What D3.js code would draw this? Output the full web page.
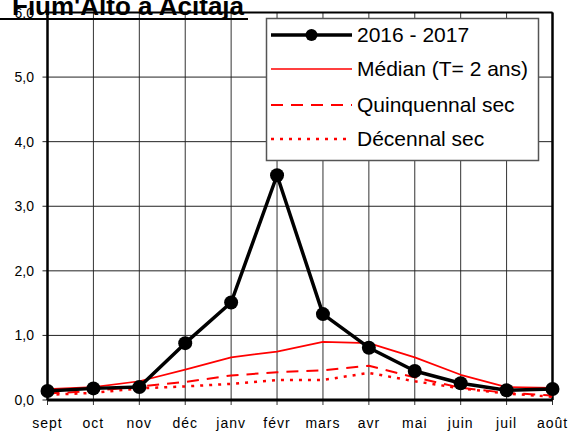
<!DOCTYPE html>
<html>
<head>
  <meta charset="utf-8">
  <script src="https://d3js.org/d3.v7.min.js"></script>
  <style>
    body { margin: 0; background: #fff; font-family: "Liberation Sans", Arial, sans-serif; }
    svg { display: block; }
  </style>
</head>
<body>
  <div id="chart"></div>
  <script>
    var months = ["sept", "oct", "nov", "déc", "janv", "févr", "mars", "avr", "mai", "juin", "juil", "août"];
    var yTicks = [0, 1, 2, 3, 4, 5, 6];

    var year = [0.14, 0.18, 0.20, 0.88, 1.51, 3.48, 1.33, 0.81, 0.45, 0.26, 0.15, 0.17];
    var median = [0.17, 0.20, 0.29, 0.47, 0.66, 0.75, 0.90, 0.88, 0.66, 0.39, 0.20, 0.19];
    var quinq = [0.10, 0.14, 0.21, 0.28, 0.38, 0.43, 0.46, 0.53, 0.35, 0.19, 0.11, 0.07];
    var decen = [0.08, 0.11, 0.18, 0.21, 0.25, 0.31, 0.31, 0.42, 0.29, 0.18, 0.10, 0.05];

    var series = [
      { name: "2016 - 2017", values: year, color: "#000", width: 3.5, dash: null, marker: true },
      { name: "Médian (T= 2 ans)", values: median, color: "#ff0000", width: 1.7, dash: null },
      { name: "Quinquennal sec", values: quinq, color: "#ff0000", width: 2, dash: "12,8" },
      { name: "Décennal sec", values: decen, color: "#ff0000", width: 2.5, dash: "3,6" }
    ];

    var W = 571, H = 432;
    var plotL = 47.5, plotR = 552.5, plotT = 12.5, plotB = 400;

    var svg = d3.select("#chart").append("svg")
      .attr("width", W)
      .attr("height", H);

    var x = d3.scalePoint().domain(months).range([plotL, plotR]);
    var y = d3.scaleLinear().domain([0, 6]).range([plotB, plotT]);

    var fmt = function (d) { return d3.format(".1f")(d).replace(".", ","); };

    // grid
    svg.append("g").selectAll("line").data(months).join("line")
      .attr("x1", d => x(d)).attr("x2", d => x(d))
      .attr("y1", plotT).attr("y2", plotB + 5)
      .attr("stroke", "#333").attr("stroke-width", 1);
    svg.append("g").selectAll("line").data(yTicks).join("line")
      .attr("x1", plotL - 5).attr("x2", plotR)
      .attr("y1", d => y(d)).attr("y2", d => y(d))
      .attr("stroke", "#222").attr("stroke-width", 1);

    // frame
    svg.append("line").attr("x1", plotL).attr("x2", plotL).attr("y1", plotT).attr("y2", plotB)
      .attr("stroke", "#000").attr("stroke-width", 2.5);
    svg.append("line").attr("x1", plotR).attr("x2", plotR).attr("y1", plotT).attr("y2", plotB)
      .attr("stroke", "#000").attr("stroke-width", 2.5);
    svg.append("line").attr("x1", plotL).attr("x2", plotR).attr("y1", plotT).attr("y2", plotT)
      .attr("stroke", "#000").attr("stroke-width", 2);
    svg.append("line").attr("x1", plotL).attr("x2", plotR).attr("y1", plotB).attr("y2", plotB)
      .attr("stroke", "#000").attr("stroke-width", 3);

    // axis labels
    svg.append("g").selectAll("text").data(yTicks).join("text")
      .attr("x", 34).attr("y", d => y(d) + 5)
      .attr("text-anchor", "end")
      .attr("font-size", 14).attr("fill", "#000")
      .text(fmt);
    svg.append("g").selectAll("text").data(months).join("text")
      .attr("x", d => x(d)).attr("y", 428)
      .attr("text-anchor", "middle")
      .attr("font-size", 14).attr("letter-spacing", 1).attr("fill", "#000")
      .text(d => d);

    // lines
    var line = d3.line().x((d, i) => x(months[i])).y(d => y(d));
    series.slice().reverse().forEach(s => {
      svg.append("path")
        .attr("d", line(s.values))
        .attr("fill", "none")
        .attr("stroke", s.color)
        .attr("stroke-width", s.width)
        .attr("stroke-dasharray", s.dash)
        .attr("stroke-linejoin", "round");
      if (s.marker) {
        svg.append("g").selectAll("circle").data(s.values).join("circle")
          .attr("cx", (d, i) => x(months[i])).attr("cy", d => y(d))
          .attr("r", 7).attr("fill", "#000");
      }
    });

    // legend
    var lg = svg.append("g");
    lg.append("rect")
      .attr("x", 266.5).attr("y", 18.5).attr("width", 272).attr("height", 142)
      .attr("fill", "#fff").attr("stroke", "#555").attr("stroke-width", 1.5);
    var rowY = [35, 69, 105, 139];
    series.forEach((s, i) => {
      lg.append("line")
        .attr("x1", 271).attr("x2", 352)
        .attr("y1", rowY[i]).attr("y2", rowY[i])
        .attr("stroke", s.color).attr("stroke-width", s.width)
        .attr("stroke-dasharray", s.dash);
      if (s.marker) {
        lg.append("circle").attr("cx", 311.5).attr("cy", rowY[i]).attr("r", 6).attr("fill", "#000");
      }
      lg.append("text")
        .attr("x", 357).attr("y", rowY[i] + 7)
        .attr("font-size", 21).attr("fill", "#000")
        .text(s.name);
    });

    // title
    svg.append("text")
      .attr("x", 12).attr("y", 15)
      .attr("font-size", 26).attr("font-weight", "bold").attr("fill", "#000")
      .text("Fium'Alto a Acitaja");
    svg.append("line").attr("x1", 0).attr("x2", 248).attr("y1", 19).attr("y2", 19)
      .attr("stroke", "#000").attr("stroke-width", 2);
  </script>
</body>
</html>
